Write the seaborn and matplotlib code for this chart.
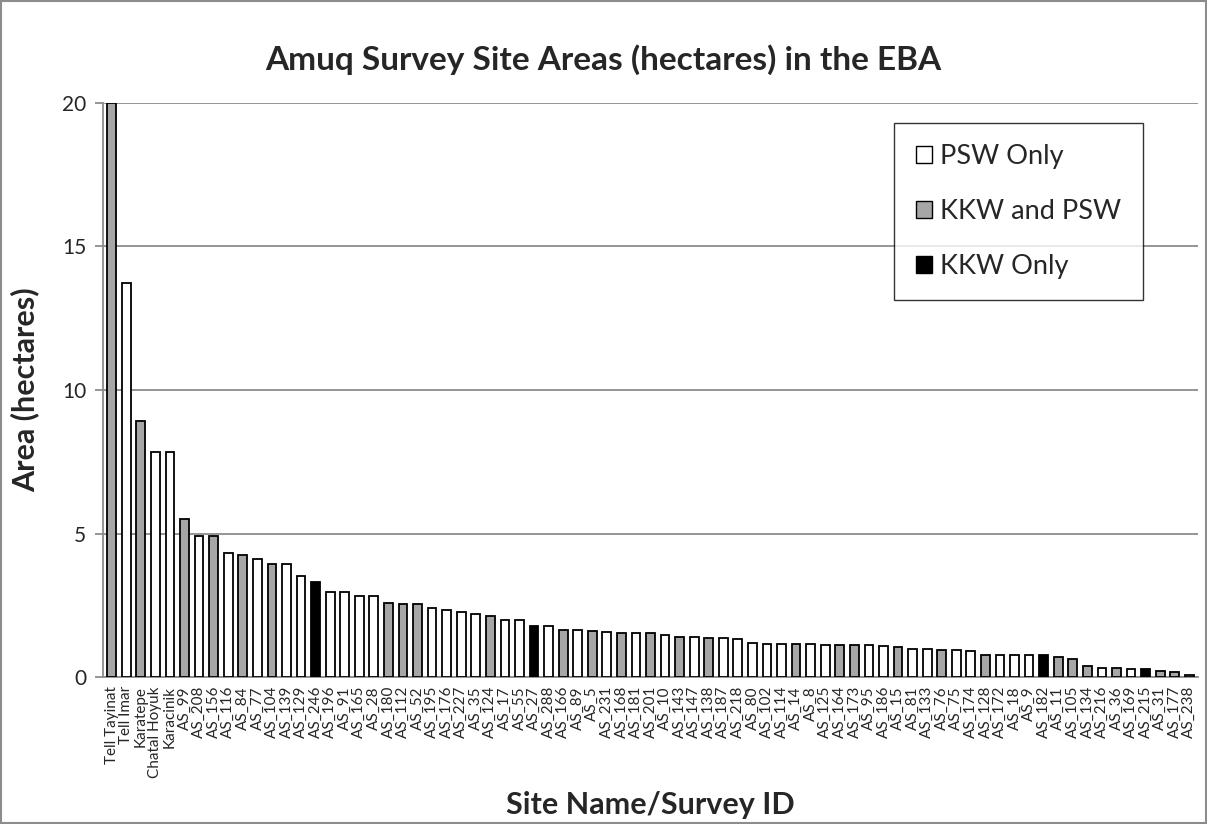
import matplotlib
matplotlib.use("Agg")
import matplotlib.pyplot as plt
from matplotlib.patches import Patch, Rectangle
import seaborn as sns
import pandas as pd

# Site names / survey IDs, ordered by area
sites = [
    "Tell Tayinat", "Tell Imar", "Karatepe", "Chatal Hoyuk", "Karacinik",
    "AS_99", "AS_208", "AS_156", "AS_116", "AS_84", "AS_77", "AS_104",
    "AS_139", "AS_129", "AS_246", "AS_196", "AS_91", "AS_165", "AS_28",
    "AS_180", "AS_112", "AS_52", "AS_195", "AS_176", "AS_227", "AS_35",
    "AS_124", "AS_17", "AS_55", "AS_27", "AS_288", "AS_166", "AS_89",
    "AS_5", "AS_231", "AS_168", "AS_181", "AS_201", "AS_10", "AS_143",
    "AS_147", "AS_138", "AS_187", "AS_218", "AS_80", "AS_102", "AS_114",
    "AS_14", "AS_8", "AS_125", "AS_164", "AS_173", "AS_95", "AS_186",
    "AS_15", "AS_81", "AS_133", "AS_76", "AS_75", "AS_174", "AS_128",
    "AS_172", "AS_18", "AS_9", "AS_182", "AS_11", "AS_105", "AS_134",
    "AS_216", "AS_36", "AS_169", "AS_215", "AS_31", "AS_177", "AS_238",
]

# Site area in hectares
areas = [
    20.0, 13.73, 8.93, 7.85, 7.85,
    5.52, 4.92, 4.91, 4.33, 4.25, 4.12, 3.93,
    3.93, 3.53, 3.30, 2.95, 2.95, 2.83, 2.83,
    2.59, 2.55, 2.53, 2.39, 2.33, 2.26, 2.20,
    2.12, 1.99, 1.99, 1.76, 1.76, 1.64, 1.64,
    1.60, 1.57, 1.55, 1.55, 1.55, 1.46, 1.40,
    1.40, 1.36, 1.36, 1.33, 1.19, 1.16, 1.16,
    1.16, 1.16, 1.12, 1.12, 1.12, 1.12, 1.09,
    1.06, 0.99, 0.98, 0.95, 0.94, 0.89, 0.78,
    0.78, 0.78, 0.77, 0.75, 0.70, 0.63, 0.39,
    0.32, 0.32, 0.29, 0.27, 0.21, 0.18, 0.07,
]

# Ware group: P = PSW Only, B = KKW and PSW, K = KKW Only
groups_code = [
    "B", "P", "B", "P", "P",
    "B", "P", "B", "P", "B", "P", "B",
    "P", "P", "K", "P", "P", "P", "P",
    "B", "B", "B", "P", "P", "P", "P",
    "B", "P", "P", "K", "P", "B", "P",
    "B", "P", "B", "P", "B", "P", "B",
    "P", "B", "P", "P", "P", "P", "P",
    "B", "P", "P", "B", "B", "P", "P",
    "B", "P", "P", "B", "P", "P", "B",
    "P", "P", "P", "K", "B", "B", "B",
    "P", "B", "P", "K", "B", "B", "P",
]

group_names = {"P": "PSW Only", "B": "KKW and PSW", "K": "KKW Only"}
group_colors = {"PSW Only": "#ffffff", "KKW and PSW": "#a6a6a6", "KKW Only": "#000000"}

df = pd.DataFrame({
    "site": sites,
    "area": areas,
    "group": [group_names[g] for g in groups_code],
})

sns.set_style("white")
plt.rcParams["font.family"] = ["Lato", "DejaVu Sans"]

fig = plt.figure(figsize=(12.07, 8.24), dpi=100)
ax = fig.add_axes([103 / 1207, 1 - 677 / 824, (1198 - 103) / 1207, (677 - 103) / 824])

sns.barplot(
    data=df, x="site", y="area", hue="group", order=sites,
    palette=group_colors, dodge=False, width=0.6,
    edgecolor="black", linewidth=1.3, legend=False, ax=ax, zorder=3,
)

ax.set_ylim(0, 20)
ax.set_xlim(-0.6, len(sites) - 0.4)
ax.set_yticks([0, 5, 10, 15, 20])
ax.yaxis.grid(True, color="#8c8c8c", linewidth=1.3, zorder=0)
ax.set_axisbelow(True)

for side in ["top", "right"]:
    ax.spines[side].set_visible(False)
for side in ["left", "bottom"]:
    ax.spines[side].set_color("#8c8c8c")
    ax.spines[side].set_linewidth(1.3)

ax.tick_params(axis="y", which="major", left=True, length=6, width=1.3,
               color="#8c8c8c", labelsize=15, pad=6)
ax.tick_params(axis="x", which="major", bottom=False, labelsize=11, pad=3)
for lbl in ax.get_xticklabels():
    lbl.set_rotation(90)

ax.set_xlabel("Site Name/Survey ID", fontsize=22, fontweight="bold")
ax.set_ylabel("Area (hectares)", fontsize=22, fontweight="bold")
ax.xaxis.set_label_coords(0.5, -0.198)
ax.yaxis.set_label_coords(-0.058, 0.5)
fig.suptitle("Amuq Survey Site Areas (hectares) in the EBA", fontsize=24,
             fontweight="bold", x=0.5, y=0.946)

handles = [Patch(facecolor=group_colors[n], edgecolor="black", linewidth=1.0, label=n)
           for n in ["PSW Only", "KKW and PSW", "KKW Only"]]
leg = ax.legend(handles=handles, loc="upper right", bbox_to_anchor=(0.95, 0.966),
                fontsize=19.5, frameon=True, fancybox=False, edgecolor="black",
                handlelength=0.6, handleheight=0.6, handletextpad=0.3,
                labelspacing=1.1, borderpad=0.8, borderaxespad=0.0)
leg.get_frame().set_linewidth(1.0)

# chart area border
fig.patches.append(Rectangle((0.001, 0.001), 0.998, 0.998, transform=fig.transFigure,
                             fill=False, edgecolor="#8c8c8c", linewidth=1.5))

fig.savefig("out.png", dpi=100)
